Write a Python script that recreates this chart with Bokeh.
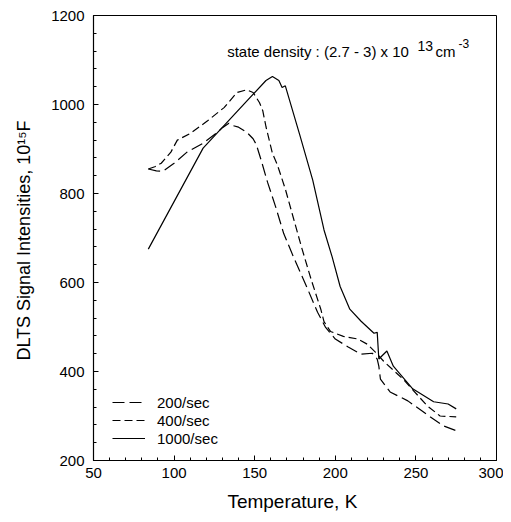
from bokeh.plotting import figure
from bokeh.models import SingleIntervalTicker, Label, Range1d
from bokeh.embed import file_html
from bokeh.resources import INLINE

# ---- data ----
T_200 = [84, 89, 93, 100, 108, 118, 126, 130, 134, 136, 140, 145, 149, 151, 154, 158, 163, 168, 174,
         183, 189, 194, 200, 208, 216, 223, 226, 227, 228, 234, 245, 259, 267, 275]
V_200 = [855, 851, 850, 868, 893, 913, 935, 948, 958, 953, 949, 938, 923, 910, 875, 825, 770, 710, 658,
         584, 533, 499, 473, 455, 439, 441, 428, 412, 383, 354, 334, 298, 278, 267]

T_400 = [84, 88, 92, 98, 102, 110, 121, 131, 139, 145, 149, 153, 155, 157, 161, 164, 169, 174, 179,
         185, 191, 193, 197, 205, 214, 220, 225, 230, 242, 257, 265, 275]
V_400 = [855, 860, 868, 893, 920, 935, 964, 993, 1027, 1033, 1027, 1004, 986, 950, 890, 865, 810, 745, 680,
         607, 540, 512, 490, 479, 473, 461, 443, 423, 383, 323, 300, 298]

T_1000 = [84, 118, 157, 161, 165, 167, 169, 178, 186, 193, 198, 203, 209, 216, 224, 226, 227, 232, 236,
          248, 261, 270, 275]
V_1000 = [675, 902, 1054, 1063, 1054, 1038, 1042, 931, 830, 718, 658, 591, 540, 513, 486, 488, 428, 446, 412,
          361, 332, 327, 316]

series_labels = ["200/sec", "400/sec", "1000/sec"]
x_label = "Temperature,  K"
y_label = "DLTS Signal Intensities,  10\u00b9\u2075F"
note_main = "state density : (2.7 - 3) x 10"
note_exp1 = "13"
note_unit = "cm"
note_exp2 = "-3"

FONT = "Liberation Sans"

p = figure(width=503, height=514, output_backend="svg", toolbar_location=None,
           x_range=Range1d(50, 300), y_range=Range1d(200, 1200),
           min_border_left=93, min_border_right=7, min_border_top=15, min_border_bottom=52)

p.background_fill_color = "white"
p.border_fill_color = "white"
p.outline_line_color = "black"
p.outline_line_width = 1
p.xgrid.visible = False
p.ygrid.visible = False

p.xaxis.ticker = SingleIntervalTicker(interval=50, num_minor_ticks=5)
p.yaxis.ticker = SingleIntervalTicker(interval=200, num_minor_ticks=5)

for ax in (p.xaxis[0], p.yaxis[0]):
    ax.axis_line_color = "black"
    ax.axis_line_width = 1.2
    ax.major_tick_in = 5
    ax.major_tick_out = 0
    ax.minor_tick_in = 3
    ax.minor_tick_out = 0
    ax.major_tick_line_color = "black"
    ax.minor_tick_line_color = "black"
    ax.major_label_text_font = FONT
    ax.major_label_text_font_size = "15px"
    ax.major_label_text_color = "black"
    ax.axis_label_text_font = FONT
    ax.axis_label_text_font_style = "normal"
    ax.axis_label_text_color = "black"

p.xaxis.axis_label = x_label
p.yaxis.axis_label = y_label
p.xaxis.axis_label_text_font_size = "19px"
p.yaxis.axis_label_text_font_size = "18px"
p.xaxis.major_label_standoff = 7
p.yaxis.major_label_standoff = 9
p.xaxis.axis_label_standoff = 10
p.yaxis.axis_label_standoff = 14

p.line(T_200, V_200, line_color="black", line_width=1.2, line_dash="12 5", legend_label=series_labels[0])
p.line(T_400, V_400, line_color="black", line_width=1.2, line_dash="8 4", legend_label=series_labels[1])
p.line(T_1000, V_1000, line_color="black", line_width=1.2, legend_label=series_labels[2])

lg = p.legend[0]
lg.location = (19, 13)
lg.border_line_color = None
lg.background_fill_alpha = 0
lg.padding = 0
lg.margin = 0
lg.spacing = 0
lg.glyph_width = 33
lg.glyph_height = 18
lg.label_height = 18
lg.label_standoff = 12
lg.label_text_font = FONT
lg.label_text_font_size = "15px"
lg.label_text_color = "black"

common = dict(text_font=FONT, text_color="black", text_baseline="alphabetic")
p.add_layout(Label(x=189.3, y=1118, text=note_main, text_align="center", text_font_size="15px", **common))
p.add_layout(Label(x=251, y=1132, text=note_exp1, text_align="left", text_font_size="14px", **common))
p.add_layout(Label(x=262.2, y=1118, text=note_unit, text_align="left", text_font_size="15px", **common))
p.add_layout(Label(x=276.4, y=1136, text=note_exp2, text_align="left", text_font_size="12px", **common))

open("out.html", "w").write(file_html(p, INLINE))
